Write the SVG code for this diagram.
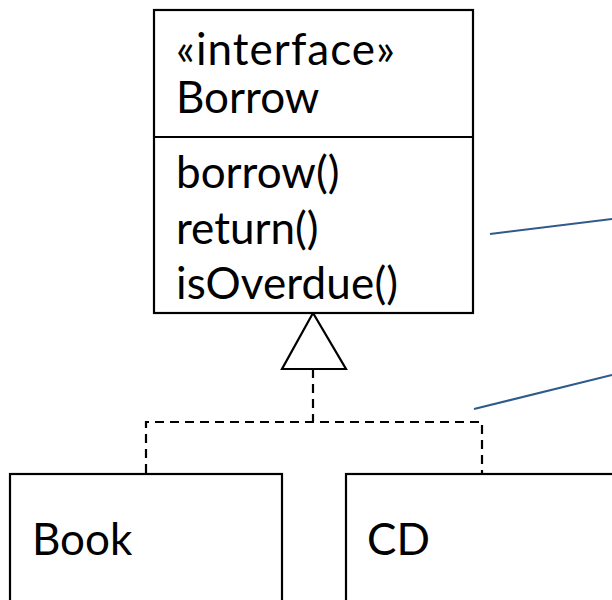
<svg xmlns="http://www.w3.org/2000/svg" width="612" height="600" viewBox="0 0 612 600">
  <style>
    .box { fill: #ffffff; stroke: #000000; stroke-width: 2.2; }
    .txt { font-family: Lato, "Open Sans", "Liberation Sans", sans-serif; font-size: 44px; fill: #000000; }
    .dash { fill: none; stroke: #000000; stroke-width: 2.2; stroke-dasharray: 9 6; }
    .note { fill: none; stroke: #2f5a8c; stroke-width: 2; }
  </style>
  <rect width="612" height="600" fill="#ffffff"/>
  <g id="connectors">
    <path class="dash" d="M313,369 V422 M146,473 V422 H482 V473"/>
    <polygon points="313,313 282,369 346,369" fill="#ffffff" stroke="#000000" stroke-width="2.2"/>
    <line class="note" x1="490" y1="234" x2="612" y2="219"/>
    <line class="note" x1="474" y1="409" x2="612" y2="375"/>
  </g>
  <g id="Borrow">
    <rect class="box" x="154" y="10" width="319" height="303"/>
    <line x1="154" y1="137" x2="473" y2="137" stroke="#000000" stroke-width="2.2"/>
    <text class="txt" x="176" y="65" textLength="219" lengthAdjust="spacing">«interface»</text>
    <text class="txt" x="176" y="113">Borrow</text>
    <text class="txt" x="176" y="188">borrow()</text>
    <text class="txt" x="176" y="244">return()</text>
    <text class="txt" x="176" y="299" textLength="222" lengthAdjust="spacing">isOverdue()</text>
  </g>
  <g id="Book">
    <rect class="box" x="10" y="474" width="272" height="140"/>
    <text class="txt" x="32" y="555">Book</text>
  </g>
  <g id="CD">
    <rect class="box" x="346" y="474" width="280" height="140"/>
    <text class="txt" x="367" y="555">CD</text>
  </g>
</svg>
